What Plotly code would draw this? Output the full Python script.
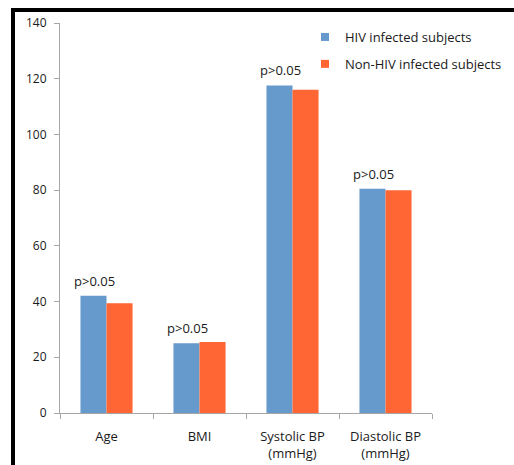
import plotly.graph_objects as go

categories = ["Age", "BMI", "Systolic BP<br>(mmHg)", "Diastolic BP<br>(mmHg)"]
hiv_values = [42.1, 25.0, 117.6, 80.5]
non_hiv_values = [39.4, 25.5, 116.0, 80.0]
p_labels = ["p>0.05", "p>0.05", "p>0.05", "p>0.05"]
series_names = ["HIV infected subjects", "Non-HIV infected subjects"]
y_ticks = [0, 20, 40, 60, 80, 100, 120, 140]

BLUE = "#6699cc"
ORANGE = "#ff6633"
FONT = "Open Sans"
TXT = "#1a1a1a"

fig = go.Figure()
fig.add_trace(go.Bar(x=categories, y=hiv_values, name=series_names[0],
                     marker=dict(color=BLUE, line=dict(width=0)),
                     showlegend=False))
fig.add_trace(go.Bar(x=categories, y=non_hiv_values, name=series_names[1],
                     marker=dict(color=ORANGE, line=dict(width=0)),
                     showlegend=False))
# legend entries (small square swatches like the original)
for name, col, grp in zip(series_names, [BLUE, ORANGE], ["a", "b"]):
    fig.add_trace(go.Scatter(x=[None], y=[None], mode="markers", name=name,
                             legendgroup=grp,
                             marker=dict(symbol="square", size=8, color=col,
                                         line=dict(width=0))))

for cat, val, lab in zip(categories, hiv_values, p_labels):
    fig.add_annotation(x=cat, y=val, text=lab, showarrow=False,
                       xanchor="left", yanchor="bottom", xshift=-35, yshift=4,
                       font=dict(family=FONT, size=13, color=TXT))

# outer frame (top and left black lines)
W, H = 514, 465
L, R, T, B = 60, 82, 23, 52
pw, ph = W - L - R, H - T - B
def px(xp):
    return (xp - L) / pw
def py(yp):
    return (H - B - yp) / ph
fig.add_shape(type="rect", xref="paper", yref="paper",
              x0=px(13), x1=px(540), y0=py(490), y1=py(10),
              line=dict(color="black", width=4), fillcolor="rgba(0,0,0,0)")

fig.update_layout(
    width=W, height=H,
    margin=dict(l=L, r=R, t=T, b=B, autoexpand=False),
    paper_bgcolor="white", plot_bgcolor="white",
    barmode="group", bargap=0.44, bargroupgap=0,
    font=dict(family=FONT, size=13, color=TXT),
    showlegend=True,
    legend=dict(xref="container", yref="container",
                x=305 / W, y=1 - 22 / H, xanchor="left", yanchor="top",
                traceorder="grouped", tracegroupgap=7,
                font=dict(family=FONT, size=13, color=TXT),
                bgcolor="rgba(0,0,0,0)"),
    xaxis=dict(type="category", showline=True, linecolor="#a6a6a6", linewidth=1,
               ticks="outside", tickson="boundaries", ticklen=5,
               tickcolor="#a6a6a6", showgrid=False, ticklabelstandoff=11,
               automargin=False,
               tickfont=dict(family=FONT, size=13, color=TXT)),
    yaxis=dict(range=[0, 140], tickvals=y_ticks, showline=True,
               linecolor="#a6a6a6", linewidth=1, ticks="outside", ticklen=5,
               tickcolor="#a6a6a6", showgrid=False, zeroline=False,
               ticklabelstandoff=5, automargin=False,
               tickfont=dict(family=FONT, size=12, color=TXT)),
)

fig.write_html("out.html", config={"displayModeBar": False},
               post_script="document.body.style.margin='0';document.body.style.overflow='hidden';")
